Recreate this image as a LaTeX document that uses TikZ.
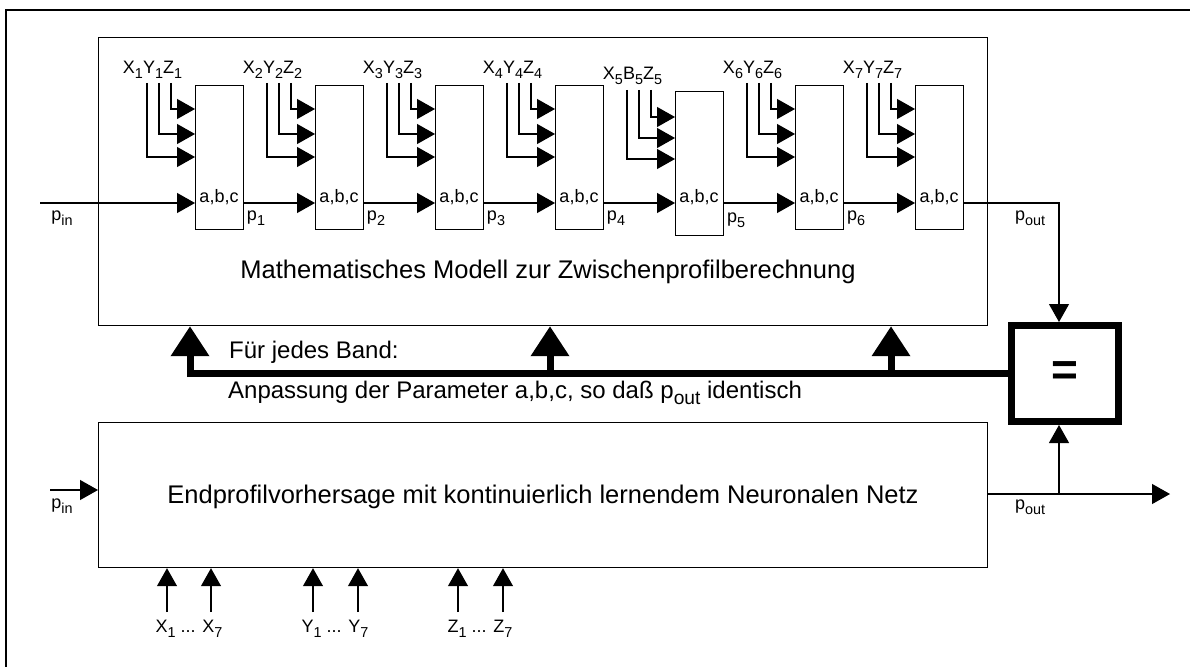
\documentclass[tikz,border=0pt]{standalone}
\usepackage{fontspec}
\setmainfont{Liberation Sans}
\usetikzlibrary{arrows.meta,calc}
\newcommand{\sbs}[1]{\raisebox{-0.28em}{\scalebox{0.8}{#1}}}
\begin{document}
\begin{tikzpicture}[x=1pt,y=-1pt,
  arr/.style={line width=1.2pt,-{Triangle[length=18pt,width=20pt]}},
  thickarr/.style={line width=7pt,-{Triangle[length=30pt,width=37pt]}},
  blk/.style={draw,line width=1.2pt,minimum width=48pt,minimum height=144pt,inner sep=0pt,anchor=north west},
  bigbox/.style={draw,line width=1.2pt,inner sep=0pt,anchor=north west},
  small/.style={font=\fontsize{18}{20}\selectfont,inner sep=0pt},
  bigtext/.style={font=\fontsize{25.5}{28}\selectfont,inner sep=0pt},
  midtext/.style={font=\fontsize{24}{26}\selectfont,inner sep=0pt,anchor=west},
  eqbox/.style={draw,line width=7pt,minimum width=107pt,minimum height=96pt,inner sep=0pt,font=\fontsize{46}{48}\bfseries\selectfont}
]
\useasboundingbox (0,0) rectangle (1190,666);
% outer frame
\draw[line width=1.2pt] (6,700) -- (6,10) -- (1200,10);
% big boxes
\node[bigbox,minimum width=889pt,minimum height=288pt] (model) at (98,37) {};
\node[bigtext] (modeltxt) at (548,272) {Mathematisches Modell zur Zwischenprofilberechnung};
\node[bigbox,minimum width=889pt,minimum height=145pt] (nn) at (98,422) {};
\node[bigtext] (nntxt) at (543,497) {Endprofilvorhersage mit kontinuierlich lernendem Neuronalen Netz};
% blocks
\foreach \i/\x/\y/\vt/\zy/\yy/\xy/\A/\B/\C in {
  1/195/85/83/109/134/157/X/Y/Z,
  2/315/85/83/109/134/157/X/Y/Z,
  3/435/85/83/109/134/157/X/Y/Z,
  4/555/85/83/109/134/157/X/Y/Z,
  5/675/91/90/117/138/159/X/B/Z,
  6/795/85/83/109/134/157/X/Y/Z,
  7/915/85/83/109/134/157/X/Y/Z}{
  \node[small] (abc\i) at (\x+24,197) {a,b,c};
  \node[blk] (b\i) at (\x,\y) {};
  \node[small] (lab\i) at (\x-42.5,\y-15) {\A\sbs{\i}\B\sbs{\i}\C\sbs{\i}};
  \draw[arr] (\x-48,\vt) |- (b\i.west |- 0,\xy);
  \draw[arr] (\x-36,\vt) |- (b\i.west |- 0,\yy);
  \draw[arr] (\x-24,\vt) |- (b\i.west |- 0,\zy);
}
% p chain
\coordinate (pinstart) at (40,203);
\draw[arr] (pinstart) -- (b1.west |- 0,203);
\node[small] (pin) at (62,218) {p\sbs{in}};
\foreach \i/\j/\x/\py in {1/2/243/218,2/3/363/218,3/4/483/218,4/5/603/218,5/6/723/220,6/7/843/218}{
  \draw[arr] (b\i.east |- 0,203) -- (b\j.west |- 0,203);
  \node[small] (p\i) at (\x+13,\py) {p\sbs{\i}};
}
% equality box
\node[eqbox] (eq) at (1065,373.5) {=};
\draw[arr] (b7.east |- 0,203) -| (eq.north -| 1059,0);
\node[small] (pout1) at (1030,218) {p\sbs{out}};
% feedback
\draw[line width=7pt] (eq.west) -- (186.5,373.5);
\foreach \x in {190,550,891}{
  \draw[thickarr] (\x,377) -- (model.south -| \x,0);
}
\node[midtext] (fur) at (229,352) {Für jedes Band:};
\node[midtext] (anp) at (228,393) {Anpassung der Parameter a,b,c, so daß p\sbs{out} identisch};
% bottom network io
\coordinate (pin2start) at (50,490);
\draw[arr] (pin2start) -- (nn.west |- 0,490);
\node[small] (pin2) at (62,506) {p\sbs{in}};
\coordinate (outend) at (1170,494);
\coordinate (junc) at (1059,494);
\draw[arr] (nn.east |- 0,494) -- (outend);
\draw[arr] (junc) -- (eq.south -| 1059,0);
\node[small] (pout2) at (1030,507) {p\sbs{out}};
\foreach \x in {167,211,313,358,458,503}{
  \coordinate (in\x) at (\x,612);
  \draw[arr] (in\x) -- (nn.south -| \x,0);
}
\node[small] (xl) at (189,629) {X\sbs{1} ... X\sbs{7}};
\node[small] (yl) at (335,629) {Y\sbs{1} ... Y\sbs{7}};
\node[small] (zl) at (480,629) {Z\sbs{1} ... Z\sbs{7}};
\end{tikzpicture}
\end{document}
